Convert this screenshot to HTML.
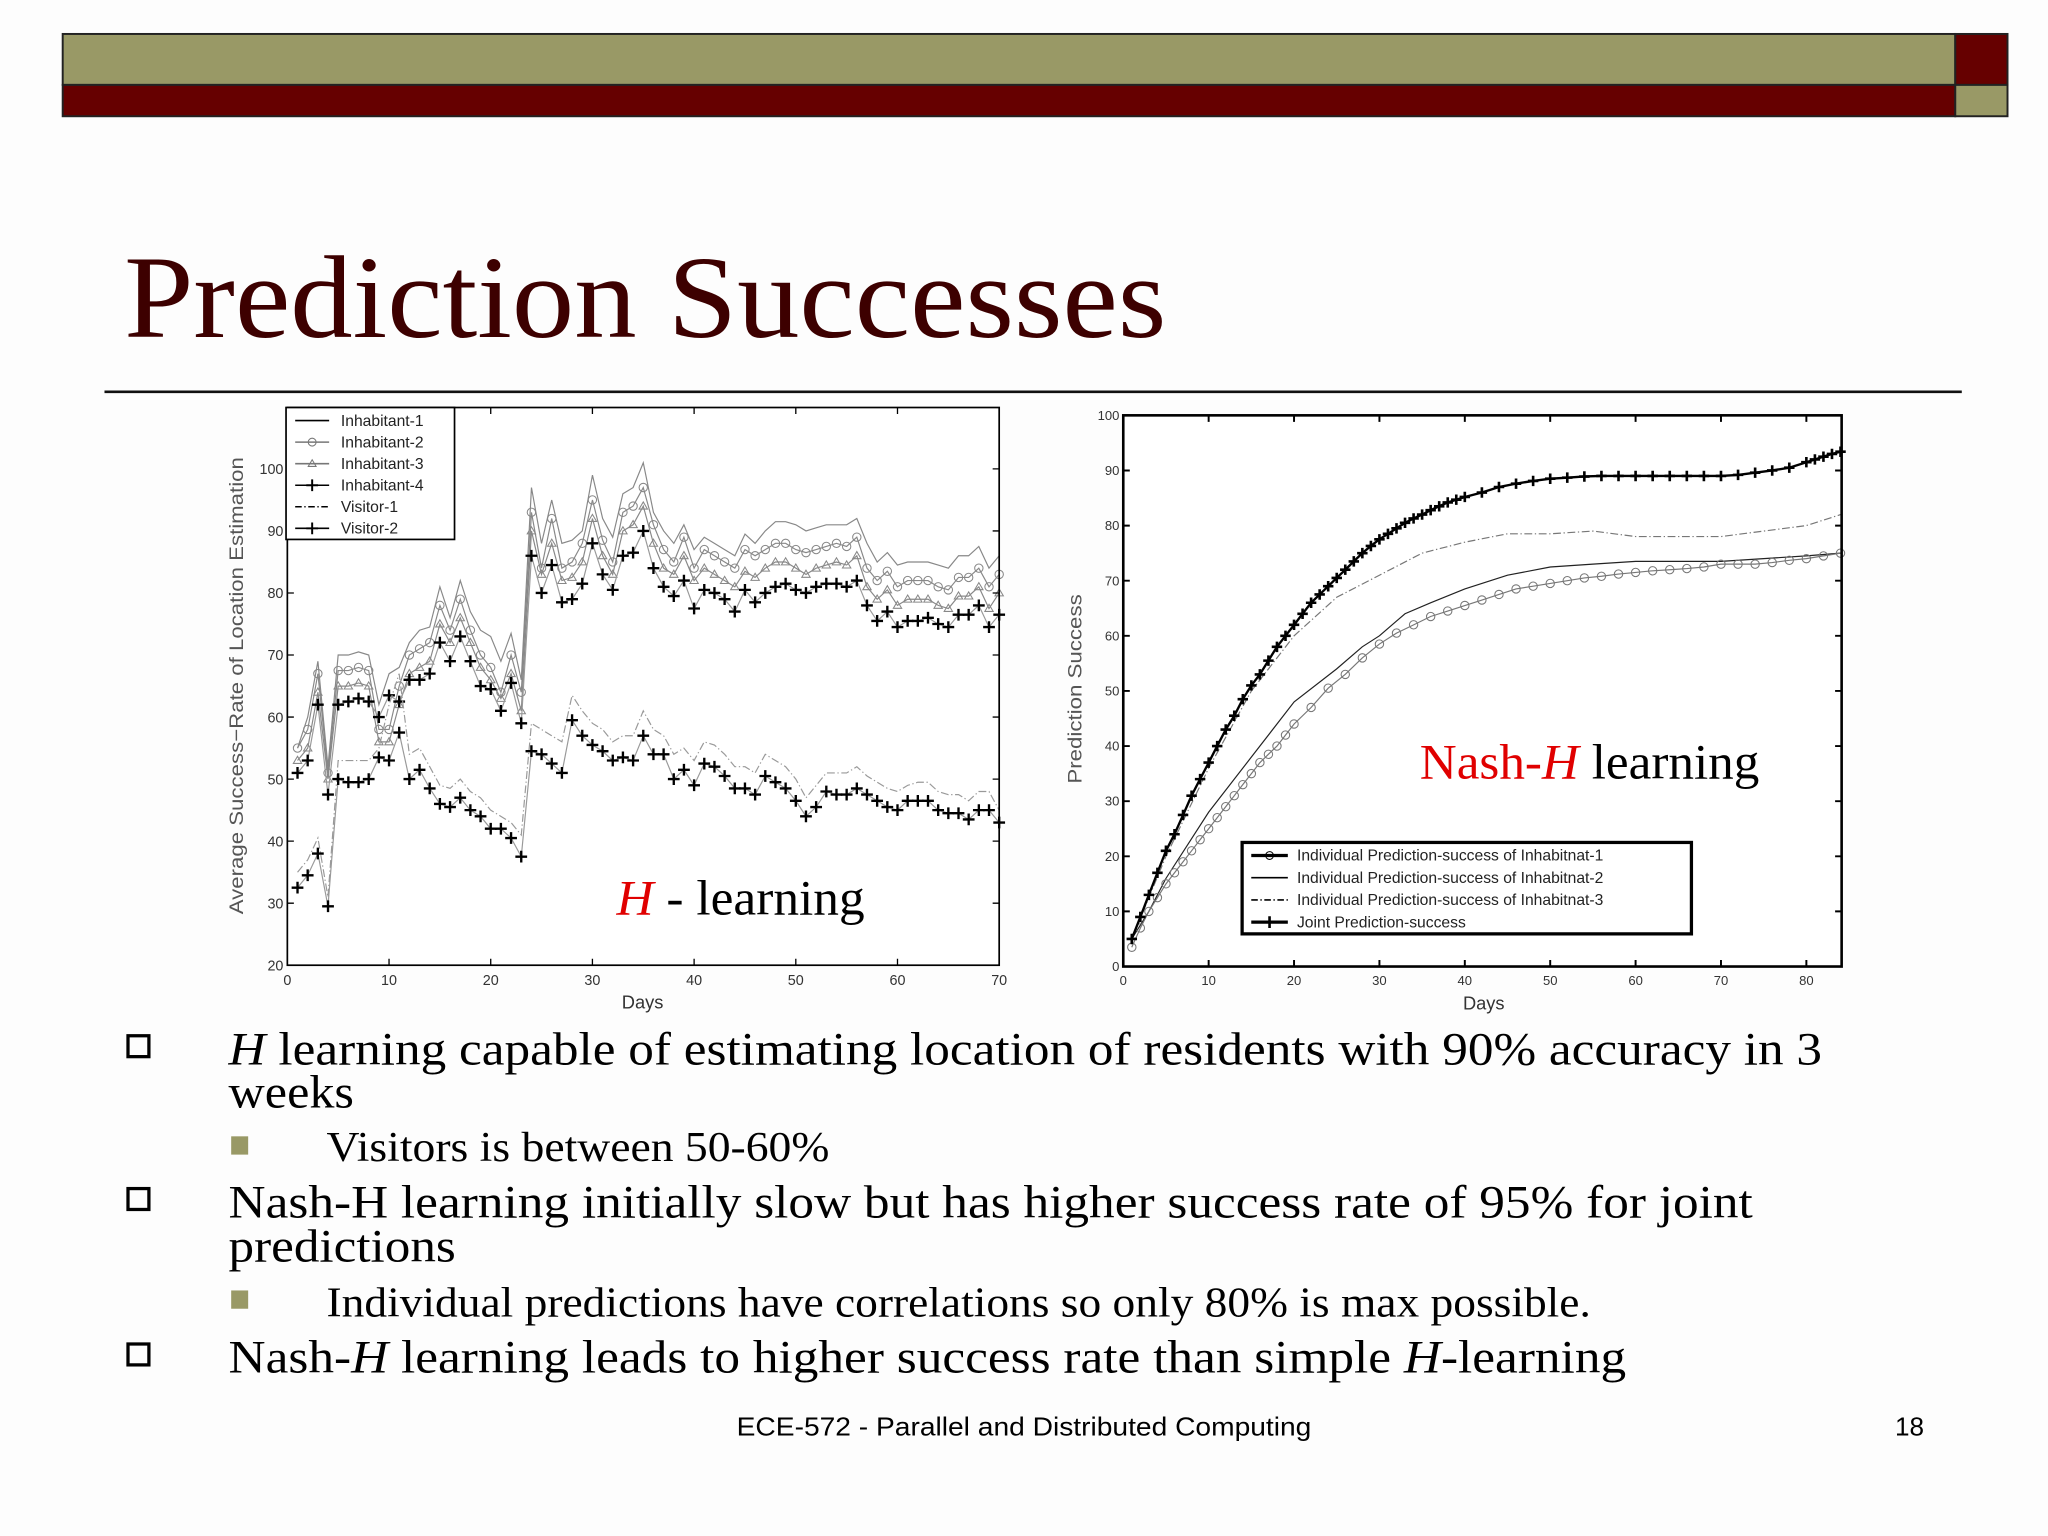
<!DOCTYPE html>
<html><head><meta charset="utf-8">
<style>
html,body{margin:0;padding:0;background:#fdfdfd;}
svg{display:block;}
text{font-family:"Liberation Serif",serif;}
.sans{font-family:"Liberation Sans",sans-serif;}
</style></head>
<body>
<svg id="root" width="2048" height="1536" viewBox="0 0 1568 1176" xmlns="http://www.w3.org/2000/svg">
<rect x="0" y="0" width="1568" height="1176" fill="#fdfdfd"/>
<rect x="48" y="26" width="1449" height="39" fill="#999966" stroke="#222" stroke-width="1.5"/>
<rect x="48" y="65" width="1449" height="24" fill="#660000" stroke="#222" stroke-width="1.5"/>
<rect x="1497" y="26" width="40" height="39" fill="#660000" stroke="#222" stroke-width="1.5"/>
<rect x="1497" y="65" width="40" height="24" fill="#999966" stroke="#222" stroke-width="1.5"/>
<text x="95" y="258" font-size="90" fill="#3d0000" textLength="798" lengthAdjust="spacingAndGlyphs">Prediction Successes</text>
<line x1="80" y1="300" x2="1502" y2="300" stroke="#111" stroke-width="2"/>

<g id="left"></g>
<g id="right"></g>

<g>
<rect x="98" y="793" width="16" height="16" fill="none" stroke="#000" stroke-width="2.5"/>
<text x="175" y="815" font-size="36" textLength="1220" lengthAdjust="spacingAndGlyphs"><tspan font-style="italic">H</tspan> learning capable of estimating location of residents with 90% accuracy in 3</text>
<text x="175" y="848" font-size="36" textLength="96" lengthAdjust="spacingAndGlyphs">weeks</text>
<rect x="177" y="870" width="13" height="14" fill="#999966"/>
<text x="250" y="889" font-size="32" textLength="385" lengthAdjust="spacingAndGlyphs">Visitors is between 50-60%</text>
<rect x="98" y="910" width="16" height="16" fill="none" stroke="#000" stroke-width="2.5"/>
<text x="175" y="932" font-size="36" textLength="1167" lengthAdjust="spacingAndGlyphs">Nash-H learning initially slow but has higher success rate of 95% for joint</text>
<text x="175" y="966" font-size="36" textLength="174" lengthAdjust="spacingAndGlyphs">predictions</text>
<rect x="177" y="988" width="13" height="14" fill="#999966"/>
<text x="250" y="1008" font-size="32" textLength="968" lengthAdjust="spacingAndGlyphs">Individual predictions have correlations so only 80% is max possible.</text>
<rect x="98" y="1029" width="16" height="16" fill="none" stroke="#000" stroke-width="2.5"/>
<text x="175" y="1051" font-size="36" textLength="1070" lengthAdjust="spacingAndGlyphs">Nash-<tspan font-style="italic">H</tspan> learning leads to higher success rate than simple <tspan font-style="italic">H</tspan>-learning</text>
</g>
<text class="sans" x="564" y="1099" font-size="20" textLength="440" lengthAdjust="spacingAndGlyphs">ECE-572 - Parallel and Distributed Computing</text>
<text class="sans" x="1462" y="1099" font-size="20" text-anchor="middle">18</text>
</svg>
<script>
// ---------- Left chart data (H-learning) ----------
const leftDays = [];
for (let d = 1; d <= 70; d++) leftDays.push(d);
const inh1 = [55,60,69,52,70,70,70.5,70,62,67,68,72,74,74.5,81,76,82,77,74,73,69,73.5,66,97,88,95,88,88.5,90,99,92,89,96,97,101,93,90,88,91,87,89,88,87,86,89.5,88,90,91.5,91.5,91,90,90.5,91,91,91,92,88,85,86.5,84.5,85,85,85,84.5,84,86,86,87.5,84,86];
const inh2 = [55,58,67,51,67.5,67.5,68,67.5,58,58,65,70,71,72,78,74,79,74,70,68,64,70,64,93,84,92,84,85,88,95,88.5,85,93,94,97,91,87,85,89,84,87,86,85,84,87,86,87,88,88,87,86.5,87,87.5,88,87.5,89,84,82,83.5,81,82,82,82,81,80.5,82.5,82.5,84,81,83];
const inh3 = [53,55,64,50,65,65,65.5,65,56,56,62,67,68,69,75,72,76,72,68,66,63,67,61,90,83,88,82,82.5,85,92,86,83,90,91,94,88,84,83,86,82,84,83,82,81,83.5,82.5,84,85,85,84,83,84,84.5,85,84.5,86,81,79,80.5,78,79,79,79,78,77.5,79.5,79.5,81,77.5,80];
const inh4 = [51,53,62,47.5,62,62.5,63,62.5,60,63.5,62.5,66,66,67,72,69,73,69,65,64.5,61,65.5,59,86,80,84.5,78.5,79,81.5,88,83,80.5,86,86.5,90,84,81,79.5,82,77.5,80.5,80,79,77,80.5,78.5,80,81,81.5,80.5,80,81,81.5,81.5,81,82,78,75.5,77,74.5,75.5,75.5,76,75,74.5,76.5,76.5,78,74.5,76.5];
const vis1 = [35,37,40.5,31,53,53,53,53,55,62,67,54,55,52,49,48.5,50,48,47,45,44,43,41,59,58,57,56,63.5,61,59,58,56,57,57,61,58,57,54,55,53,56,55.5,54,52,52,51,54,53,52,50,47,49,51,51,51,52,50.5,49.5,48.5,48,49,49.5,49.5,48,47.5,47.5,46.5,48,48,45];
const vis2 = [32.5,34.5,38,29.5,50,49.5,49.5,50,53.5,53,57.5,50,51.5,48.5,46,45.5,47,45,44,42,42,40.5,37.5,54.5,54,52.5,51,59.5,57,55.5,54.5,53,53.5,53,57,54,54,50,51.5,49,52.5,52,50.5,48.5,48.5,47.5,50.5,49.5,48.5,46.5,44,45.5,48,47.5,47.5,48.5,47.5,46.5,45.5,45,46.5,46.5,46.5,45,44.5,44.5,43.5,45,45,43];
const leftXTicks = [0,10,20,30,40,50,60,70];
const leftYTicks = [20,30,40,50,60,70,80,90,100];
const leftLegend = ["Inhabitant-1","Inhabitant-2","Inhabitant-3","Inhabitant-4","Visitor-1","Visitor-2"];

// ---------- Right chart data (Nash-H learning) ----------
const jointDays = [1,2,3,4,5,6,7,8,9,10,11,12,13,14,15,16,17,18,19,20,21,22,23,24,25,26,27,28,29,30,31,32,33,34,35,36,37,38,39,40,42,44,46,48,50,52,54,56,58,60,62,64,66,68,70,72,74,76,78,80,81,82,83,84];
const jointVals = [5,9,13,17,21,24,27.5,31,34,37,40,43,45.5,48.5,51,53,55.5,58,60,62,64,66,67.5,69,70.5,72,73.5,75,76.3,77.5,78.5,79.5,80.5,81.3,82,82.8,83.5,84.2,84.7,85.2,86,87,87.6,88.1,88.5,88.7,88.9,89,89,89,89,89,89,89,89,89.2,89.6,90,90.5,91.5,92,92.5,93,93.4];
const inh1Days = [1,2,3,4,5,6,7,8,9,10,11,12,13,14,15,16,17,18,19,20,22,24,26,28,30,32,34,36,38,40,42,44,46,48,50,52,54,56,58,60,62,64,66,68,70,72,74,76,78,80,82,84];
const inh1Vals = [3.5,7,10,12.5,15,17,19,21,23,25,27,29,31,33,35,37,38.5,40,42,44,47,50.5,53,56,58.5,60.5,62,63.5,64.5,65.5,66.5,67.5,68.5,69,69.5,70,70.5,70.8,71.2,71.5,71.8,72,72.2,72.5,73,73,73,73.3,73.7,74,74.5,75];
const inh2Days = [1,3,5,10,15,20,25,28,30,33,36,40,45,50,55,60,65,70,75,80,84];
const inh2Vals = [5,10,16,28,38,48,54,58,60,64,66,68.5,71,72.5,73,73.5,73.5,73.5,74,74.5,75];
const inh3Days = [1,5,10,15,20,25,30,35,40,45,50,55,60,65,70,75,80,84];
const inh3Vals = [5,20,36,50,60,67,71,75,77,78.5,78.5,79,78,78,78,79,80,82];
const rightXTicks = [0,10,20,30,40,50,60,70,80];
const rightYTicks = [0,10,20,30,40,50,60,70,80,90,100];
const rightLegend = ["Individual Prediction-success of Inhabitnat-1","Individual Prediction-success of Inhabitnat-2","Individual Prediction-success of Inhabitnat-3","Joint Prediction-success"];

const NS = "http://www.w3.org/2000/svg";
function mk(parent, tag, attrs, txt) {
  const e = document.createElementNS(NS, tag);
  for (const k in attrs) e.setAttribute(k, attrs[k]);
  if (txt !== undefined) e.textContent = txt;
  parent.appendChild(e);
  return e;
}
function plusMarker(g, x, y, s, sw) {
  const p = mk(g, "path", {d:`M${x-s},${y}H${x+s}M${x},${y-s}V${y+s}`, stroke:"#000", "stroke-width":sw, fill:"none"});
  
  
}
function circleMarker(g, x, y, r, col) {
  const c = mk(g, "circle", {cx:x, cy:y, r:r, fill:"none", stroke:col, "stroke-width":0.8});
  
  
}
function triMarker(g, x, y, r, col) {
  const t = mk(g, "path", {d:`M${x},${y-r}L${x+r},${y+r*0.7}L${x-r},${y+r*0.7}Z`, fill:"none", stroke:col, "stroke-width":0.8});
  
  
}

// ---------- Left chart ----------
(function(){
  const g = document.getElementById("left");
  const X0 = 220, X1 = 765, Y0 = 739, Ytop = 312;
  const xS = d => X0 + (d - 0) / 70 * (X1 - X0);
  const yS = v => Y0 - (v - 20) * 4.75;
  const bg = mk(g, "rect", {x:X0, y:Ytop, width:X1-X0, height:Y0-Ytop, fill:"#fff", stroke:"none"});
  
  
  function line(vals, col, w, dash, name) {
    const pts = vals.map((v,i)=>xS(leftDays[i]).toFixed(1)+","+yS(v).toFixed(1)).join(" ");
    const pl = mk(g, "polyline", {points:pts, fill:"none", stroke:col, "stroke-width":w, "stroke-dasharray":dash||"none"});
    
    
  }
  line(inh1, "#888", 0.9, null, "inhabitant-1-line");
  line(inh2, "#888", 0.9, null, "inhabitant-2-line");
  inh2.forEach((v,i)=>circleMarker(g, xS(leftDays[i]), yS(v), 3.2, "#888"));
  line(inh3, "#888", 0.9, null, "inhabitant-3-line");
  inh3.forEach((v,i)=>triMarker(g, xS(leftDays[i]), yS(v), 3.2, "#888"));
  line(inh4, "#999", 0.9, null, "inhabitant-4-line");
  inh4.forEach((v,i)=>plusMarker(g, xS(leftDays[i]), yS(v), 4.5, 1.8));
  line(vis1, "#999", 0.9, "6 2 1 2", "visitor-1-line");
  line(vis2, "#999", 0.9, null, "visitor-2-line");
  vis2.forEach((v,i)=>plusMarker(g, xS(leftDays[i]), yS(v), 4.5, 1.8));
  const fr = mk(g, "rect", {x:X0, y:Ytop, width:X1-X0, height:Y0-Ytop, fill:"none", stroke:"#000", "stroke-width":1.3});
  
  
  leftXTicks.forEach(t=>{
    const x = xS(t);
    mk(g, "path", {d:`M${x},${Y0}v-5M${x},${Ytop}v5`, stroke:"#000", "stroke-width":1});
    const tl = mk(g, "text", {x:x, y:Y0+15, "font-size":11, "text-anchor":"middle", class:"sans", fill:"#333"}, t);
    
    
  });
  leftYTicks.forEach(t=>{
    const y = yS(t);
    mk(g, "path", {d:`M${X0},${y}h5M${X1},${y}h-5`, stroke:"#000", "stroke-width":1});
    const tl = mk(g, "text", {x:X0-3, y:y+4, "font-size":11, "text-anchor":"end", class:"sans", fill:"#333"}, t);
    
    
  });
  const xt = mk(g, "text", {x:492, y:772, "font-size":14, "text-anchor":"middle", class:"sans", fill:"#333"}, "Days");
  
  
  const yt = mk(g, "text", {x:-175, y:0, "font-size":15, class:"sans", fill:"#555", textLength:350, lengthAdjust:"spacingAndGlyphs", transform:"translate(186,525) rotate(-90)"}, "Average Success\u2212Rate of Location Estimation");
  
  
  // legend
  const lg = mk(g, "rect", {x:219, y:312, width:129, height:101, fill:"#fff", stroke:"#000", "stroke-width":1.3});
  
  
  leftLegend.forEach((name,i)=>{
    const y = 322 + i*16.5;
    mk(g, "line", {x1:226, y1:y, x2:252, y2:y, stroke:i===0||i>=3?"#000":"#777", "stroke-width":1.2, "stroke-dasharray":i===4?"5 2 1 2":"none"});
    if (i===1) circleMarker(g, 239, y, 3, "#777");
    if (i===2) triMarker(g, 239, y, 3, "#777");
    if (i===3||i===5) plusMarker(g, 239, y, 4.5, 1.5);
    const lt = mk(g, "text", {x:261, y:y+4, "font-size":12, class:"sans", fill:"#222"}, name);
    
    
  });
  const ann = mk(g, "text", {x:472, y:700, "font-size":38, fill:"#000", textLength:190, lengthAdjust:"spacingAndGlyphs"});
  
  
  mk(ann, "tspan", {fill:"#e00000", "font-style":"italic"}, "H");
  mk(ann, "tspan", {}, " - learning");
})();

// ---------- Right chart ----------
(function(){
  const g = document.getElementById("right");
  const X0 = 860, X1 = 1410, Y0 = 740, Ytop = 318;
  const xS = d => X0 + d * (1383 - 860) / 80;
  const yS = v => Y0 - v * (Y0 - Ytop) / 100;
  const bg = mk(g, "rect", {x:X0, y:Ytop, width:X1-X0, height:Y0-Ytop, fill:"#fff"});
  
  
  function line(days, vals, col, w, dash, name) {
    const pts = vals.map((v,i)=>xS(days[i]).toFixed(1)+","+yS(v).toFixed(1)).join(" ");
    const pl = mk(g, "polyline", {points:pts, fill:"none", stroke:col, "stroke-width":w, "stroke-dasharray":dash||"none"});
    
    
  }
  line(inh3Days, inh3Vals, "#777", 0.9, "6 2 1 2", "inhabitant-3-line");
  line(inh2Days, inh2Vals, "#222", 0.9, null, "inhabitant-2-line");
  line(inh1Days, inh1Vals, "#777", 0.9, null, "inhabitant-1-line");
  inh1Vals.forEach((v,i)=>circleMarker(g, xS(inh1Days[i]), yS(v), 3.2, "#777"));
  line(jointDays, jointVals, "#000", 1.8, null, "joint-line");
  jointVals.forEach((v,i)=>plusMarker(g, xS(jointDays[i]), yS(v), 4, 2));
  const fr = mk(g, "rect", {x:X0, y:Ytop, width:X1-X0, height:Y0-Ytop, fill:"none", stroke:"#000", "stroke-width":2});
  
  
  rightXTicks.forEach(t=>{
    const x = xS(t);
    mk(g, "path", {d:`M${x},${Y0}v-5M${x},${Ytop}v5`, stroke:"#000", "stroke-width":1.5});
    const tl = mk(g, "text", {x:x, y:Y0+14, "font-size":10, "text-anchor":"middle", class:"sans", fill:"#333"}, t);
    
    
  });
  rightYTicks.forEach(t=>{
    const y = yS(t);
    mk(g, "path", {d:`M${X0},${y}h5M${X1},${y}h-5`, stroke:"#000", "stroke-width":1.5});
    const tl = mk(g, "text", {x:X0-3, y:y+3.5, "font-size":10, "text-anchor":"end", class:"sans", fill:"#333"}, t);
    
    
  });
  const xt = mk(g, "text", {x:1136, y:773, "font-size":14, "text-anchor":"middle", class:"sans", fill:"#333"}, "Days");
  
  
  const yt = mk(g, "text", {x:-72, y:0, "font-size":15, class:"sans", fill:"#555", textLength:145, lengthAdjust:"spacingAndGlyphs", transform:"translate(828,528) rotate(-90)"}, "Prediction Success");
  
  
  const lg = mk(g, "rect", {x:951, y:645, width:344, height:70, fill:"#fff", stroke:"#000", "stroke-width":2.5});
  
  
  rightLegend.forEach((name,i)=>{
    const y = 655 + i*17;
    mk(g, "line", {x1:958, y1:y, x2:986, y2:y, stroke:"#000", "stroke-width":i===0||i===3?2.5:1.2, "stroke-dasharray":i===2?"5 2 1 2":"none"});
    if (i===0) circleMarker(g, 972, y, 3, "#000");
    if (i===3) plusMarker(g, 972, y, 4.5, 2);
    const lt = mk(g, "text", {x:993, y:y+4, "font-size":12, class:"sans", fill:"#222"}, name);
    
    
  });
  const ann = mk(g, "text", {x:1087, y:596, "font-size":38, fill:"#000", textLength:260, lengthAdjust:"spacingAndGlyphs"});
  
  
  mk(ann, "tspan", {fill:"#e00000"}, "Nash-");
  mk(ann, "tspan", {fill:"#e00000", "font-style":"italic"}, "H");
  mk(ann, "tspan", {}, " learning");
})();
</script>
</body></html>
